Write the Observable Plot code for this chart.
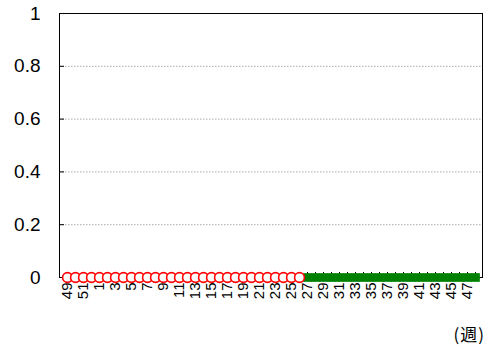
<!DOCTYPE html>
<html>
<head>
<meta charset="utf-8">
<script src="https://cdn.jsdelivr.net/npm/d3@7"></script>
<script src="https://cdn.jsdelivr.net/npm/@observablehq/plot@0.6"></script>
<style>
  html, body { margin: 0; padding: 0; background: #fff; }
  #wrap { position: relative; width: 486px; height: 351px; }
  #unit { position: absolute; right: 1px; top: 321px; font: 17px "Noto Sans CJK JP", sans-serif; color: #000; letter-spacing: 1px; }
</style>
</head>
<body>
<div id="wrap"><div id="unit">(週)</div></div>
<script>
const weeks = [49,50,51,52,1,2,3,4,5,6,7,8,9,10,11,12,13,14,15,16,17,18,19,20,21,22,23,24,25,26,27,28,29,30,31,32,33,34,35,36,37,38,39,40,41,42,43,44,45,46,47,48];
const weekLabels = [49,51,1,3,5,7,9,11,13,15,17,19,21,23,25,27,29,31,33,35,37,39,41,43,45,47];
const prevWeeks = [49,50,51,52,1,2,3,4,5,6,7,8,9,10,11,12,13,14,15,16,17,18,19,20,21,22,23,24,25,26];
const prevValues = [0,0,0,0,0,0,0,0,0,0,0,0,0,0,0,0,0,0,0,0,0,0,0,0,0,0,0,0,0,0];
const currWeeks = [27,28,29,30,31,32,33,34,35,36,37,38,39,40,41,42,43,44,45,46,47,48];
const currValues = [0,0,0,0,0,0,0,0,0,0,0,0,0,0,0,0,0,0,0,0,0,0];
const yTicks = [0,0.2,0.4,0.6,0.8,1];
const gridTicks = [0.2,0.4,0.6,0.8];

const prev = prevWeeks.map((w, i) => ({week: w, value: prevValues[i]}));
const curr = currWeeks.map((w, i) => ({week: w, value: currValues[i]}));

const W = 486, H = 351, mL = 59, mR = 4, mT = 13, mB = 74;
const innerW = W - mL - mR, innerH = H - mT - mB;

const chart = Plot.plot({
  width: W, height: H,
  marginLeft: mL, marginRight: mR, marginTop: mT, marginBottom: mB,
  style: {fontFamily: "'Liberation Sans', Arial, sans-serif", background: "white", color: "black"},
  x: {type: "point", domain: weeks, padding: 0.5, axis: null},
  y: {domain: [0, 1], axis: null},
  marks: [
    Plot.tickY(gridTicks, {y: d => d, stroke: "#aaa", strokeDasharray: "1.5,1.5", strokeWidth: 1}),
    Plot.frame({stroke: "black", strokeWidth: 1}),
    Plot.tickY(yTicks, {y: d => d, stroke: "black", insetRight: innerW - 5}),
    Plot.tickX(weeks, {x: d => d, stroke: "black", insetTop: innerH - 5}),
    Plot.text(yTicks, {y: d => d, text: d => String(d), frameAnchor: "left", dx: -19, textAnchor: "end", fontSize: 19, fill: "black"}),
    Plot.text(weekLabels, {x: d => d, text: d => String(d), frameAnchor: "bottom", dy: 5, rotate: -90, textAnchor: "end", lineAnchor: "middle", fontSize: 15, fill: "black"}),
    Plot.dot(curr, {x: "week", y: "value", symbol: "square", r: 4.9, fill: "#008000", stroke: "none"}),
    Plot.dot(prev, {x: "week", y: "value", r: 4.9, fill: "white", stroke: "red", strokeWidth: 1.6})
  ]
});
document.getElementById("wrap").prepend(chart);
</script>
</body>
</html>
